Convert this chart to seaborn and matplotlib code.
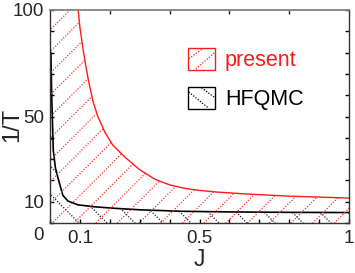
import numpy as np
import pandas as pd
import matplotlib
matplotlib.use("Agg")
import matplotlib.pyplot as plt
import seaborn as sns
from matplotlib.collections import LineCollection
from matplotlib.transforms import IdentityTransform
from matplotlib.patches import Rectangle, Patch
from matplotlib.lines import Line2D
from matplotlib.legend_handler import HandlerBase
from matplotlib.ticker import MultipleLocator

# ---- data ----
present_J = [0.094, 0.10, 0.11, 0.12, 0.13, 0.144, 0.16, 0.184, 0.21, 0.25,
             0.30, 0.35, 0.40, 0.45, 0.50, 0.56, 0.66, 0.80, 1.0]
present_T = [100, 92, 82, 73.5, 66, 57, 50, 42.5, 36.6, 31,
             25, 20.6, 17.9, 16.3, 15.3, 14.5, 13.6, 12.6, 11.7]
hfqmc_J = [0.003, 0.006, 0.011, 0.018, 0.027, 0.043, 0.06, 0.094, 0.15, 0.216,
           0.30, 0.44, 0.60, 0.80, 1.0]
hfqmc_T = [80, 58, 34, 26, 21, 13, 10.3, 8.5, 7.6, 6.9,
           6.2, 5.5, 5.2, 5.0, 4.9]
series_names = ["present", "HFQMC"]
x_ticks = [0.1, 0.5, 1]
x_ticklabels = ["0.1", "0.5", "1"]
y_ticks = [10, 50, 100]
y_ticklabels = ["10", "50", "100"]
corner_label = "0"
x_label = "J"
y_label = "1/T"

sns.set_style("ticks")
plt.rcParams["font.family"] = ["Liberation Sans", "DejaVu Sans"]

W, H = 355, 273
fig = plt.figure(figsize=(W / 100, H / 100), dpi=100)
ax = fig.add_axes([50 / W, 50 / H, 299 / W, 213 / H])
ax.set_xlim(0, 1)
ax.set_ylim(0, 100)

df_p = pd.DataFrame({"J": present_J, "invT": present_T})
df_h = pd.DataFrame({"J": hfqmc_J, "invT": hfqmc_T})

# invisible fills used as clip regions for hatching
poly_p = ax.fill_between(np.r_[0.0, present_J], 0, np.r_[100.0, present_T],
                         facecolor="none", edgecolor="none")
poly_h = ax.fill_between(np.r_[0.0, hfqmc_J], 0, np.r_[hfqmc_T[0], hfqmc_T],
                         facecolor="none", edgecolor="none")

sns.lineplot(data=df_p, x="J", y="invT", ax=ax, color="#ff1a1a", lw=1.0,
             estimator=None, sort=False)
sns.lineplot(data=df_h, x="J", y="invT", ax=ax, color="black", lw=1.2,
             estimator=None, sort=False)


def hatch(poly, slope_sign, spacing, c0, color):
    bb = ax.get_window_extent()
    segs = []
    xa, xb = bb.x0 - 5, bb.x1 + 5
    if slope_sign > 0:  # y - x = c
        cmin, cmax = bb.y0 - bb.x1, bb.y1 - bb.x0
    else:               # y + x = c
        cmin, cmax = bb.y0 + bb.x0, bb.y1 + bb.x1
    k0 = int(np.floor((cmin - c0) / spacing)) - 1
    k1 = int(np.ceil((cmax - c0) / spacing)) + 1
    for k in range(k0, k1 + 1):
        c = c0 + k * spacing
        if slope_sign > 0:
            segs.append([(xa, xa + c), (xb, xb + c)])
        else:
            segs.append([(xa, c - xa), (xb, c - xb)])
    lc = LineCollection(segs, colors=color, linewidths=0.9,
                        linestyles=[(0, (1.0, 1.3))], transform=IdentityTransform())
    lc.set_clip_path(poly.get_paths()[0], ax.transData)
    ax.add_collection(lc, autolim=False)


hatch(poly_p, +1, 21.7, 193, "#ff3030")
hatch(poly_h, -1, 28.0, 269, "#222222")

# ticks
ax.set_xticks(x_ticks)
ax.set_xticklabels(x_ticklabels)
ax.set_yticks(y_ticks)
ax.set_yticklabels(y_ticklabels)
ax.xaxis.set_minor_locator(MultipleLocator(0.1))
ax.yaxis.set_minor_locator(MultipleLocator(10))
ax.tick_params(which="both", direction="in", length=3, width=1.0,
               color="black", top=False, right=True, labelsize=13.5)
ax.tick_params(axis="x", pad=5)
ax.tick_params(axis="y", pad=4)
sec = ax.secondary_xaxis("top")
sec.set_xticks([0.2, 0.4, 0.6, 0.8])
sec.tick_params(direction="in", length=3, width=1.0, labeltop=False)
sec.spines["top"].set_color("#8a8a8a")
sec.spines["top"].set_linewidth(1.2)
for s in ["left", "bottom", "right"]:
    ax.spines[s].set_color("#333333")
    ax.spines[s].set_linewidth(1.0)
ax.spines["top"].set_color("#8a8a8a")
ax.spines["top"].set_linewidth(1.2)

ax.text(-0.04, -0.061, corner_label, transform=ax.transAxes,
        ha="center", va="center", fontsize=13.5)
ax.set_xlabel(x_label, fontsize=16.5, labelpad=1)
ax.set_ylabel(y_label, fontsize=17, labelpad=2)
ax.yaxis.set_label_coords(-0.09, 0.46)


class HatchBox(HandlerBase):
    def __init__(self, color, segs):
        super().__init__()
        self.color = color
        self.segs = segs

    def create_artists(self, legend, orig_handle, xdescent, ydescent,
                       width, height, fontsize, trans):
        x0, y0 = -xdescent, -ydescent
        arts = [Rectangle((x0, y0), width, height, fill=False,
                          edgecolor=self.color, lw=1.0, transform=trans)]
        for (a, b), (c, d) in self.segs:
            arts.append(Line2D([x0 + a * width, x0 + c * width],
                               [y0 + b * height, y0 + d * height],
                               color=self.color, lw=0.9, ls=(0, (1.0, 1.3)),
                               transform=trans))
        return arts


h_p = Patch(label=series_names[0])
h_h = Patch(label=series_names[1])
fs_leg = 15.5
px = fs_leg * 100 / 72
leg = ax.legend(handles=[h_p, h_h], loc="upper left",
                bbox_to_anchor=((188 - 50) / 299, (223 - 48) / 213),
                frameon=False, fontsize=fs_leg, borderpad=0, borderaxespad=0,
                handlelength=27 / px, handleheight=25 / px,
                handletextpad=10 / px, labelspacing=16 / px,
                labelcolor=["#ff1a1a", "black"],
                handler_map={
                    h_p: HatchBox("#ff1a1a", [((0.03, 0.51), (0.56, 0.97)),
                                             ((0.29, 0.03), (0.97, 0.77))]),
                    h_h: HatchBox("black", [((0.03, 0.77), (0.75, 0.03)),
                                           ((0.5, 0.97), (1.0, 0.5))]),
                })

fig.savefig("out.png", dpi=100)
